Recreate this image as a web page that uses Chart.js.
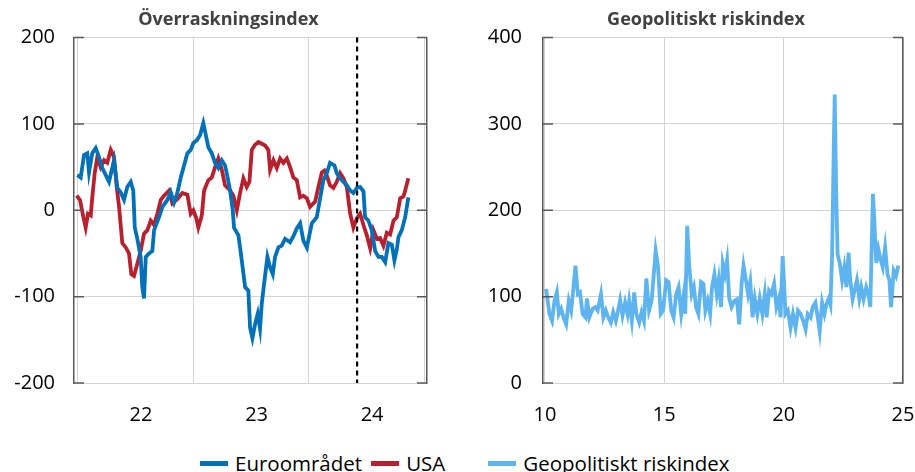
<!DOCTYPE html>
<html>
<head>
<meta charset="utf-8">
<script src="https://cdn.jsdelivr.net/npm/chart.js@4.4.1/dist/chart.umd.min.js"></script>
<style>
    html, body { margin: 0; padding: 0; background: #fff; overflow: hidden; }
    #wrap { position: relative; width: 915px; height: 472px; overflow: hidden; }
    #leftChart { position: absolute; left: 0; top: 0; }
    #rightChart { position: absolute; left: 457px; top: 0; }
    #legend { position: absolute; left: 200px; top: 449px; display: flex; align-items: center;
              font-family: "Open Sans"; font-size: 20.5px; color: #000; white-space: nowrap; }
    .item { display: flex; align-items: center; margin-right: 9px; }
    .swatch { width: 28px; height: 5px; margin-right: 7px; }
</style>
</head>
<body>
<div id="wrap">
    <canvas id="leftChart" width="457" height="447"></canvas>
    <canvas id="rightChart" width="498" height="447"></canvas>
    <div id="legend"></div>
</div>
<script>
// Överraskningsindex (x in years, 22 = 2022)
const euroX = [21.449, 21.478, 21.507, 21.535, 21.550, 21.578, 21.608, 21.636, 21.665, 21.694,
    21.723, 21.766, 21.795, 21.824, 21.853, 21.881, 21.911, 21.933, 21.946, 21.968,
    21.997, 22.011, 22.026, 22.041, 22.069, 22.098, 22.113, 22.156, 22.185, 22.228,
    22.257, 22.286, 22.314, 22.344, 22.401, 22.430, 22.453, 22.482, 22.511, 22.539,
    22.583, 22.612, 22.641, 22.669, 22.699, 22.727, 22.742, 22.771, 22.794, 22.805,
    22.843, 22.872, 22.901, 22.929, 22.944, 22.964, 22.987, 23.010, 23.030, 23.045,
    23.065, 23.094, 23.117, 23.140, 23.160, 23.189, 23.218, 23.247, 23.290, 23.319,
    23.348, 23.377, 23.405, 23.435, 23.478, 23.521, 23.550, 23.578, 23.608, 23.636,
    23.674, 23.694, 23.723, 23.752, 23.781, 23.810, 23.838, 23.868, 23.896, 23.925,
    23.939, 23.968, 23.997, 24.026, 24.055, 24.084, 24.113, 24.141, 24.171, 24.193,
    24.214, 24.228, 24.257, 24.286, 24.314];
const euroY = [41, 38, 64, 66, 44, 66, 72, 62, 49, 41,
    33, 58, 26, 21, 12, 27, 33, 23, -20, -33,
    -54, -89, -102, -54, -50, -47, -23, -8, 4, 12,
    21, 9, 20, 38, 66, 70, 78, 81, 87, 101,
    73, 66, 55, 49, 58, 52, 43, 23, 0, -20,
    -29, -58, -89, -93, -136, -148, -132, -120, -137, -108,
    -85, -54, -66, -74, -54, -43, -41, -33, -37, -30,
    -21, -15, -35, -43, -15, -8, 14, 35, 43, 55,
    52, 43, 37, 33, 29, 23, 20, 26, 27, 22,
    -8, -12, -23, -47, -54, -54, -60, -38, -40, -58,
    -45, -31, -23, -8, 15];

const usaX = [21.443, 21.472, 21.501, 21.521, 21.541, 21.565, 21.578, 21.599, 21.622, 21.651,
    21.680, 21.708, 21.738, 21.766, 21.790, 21.810, 21.838, 21.868, 21.896, 21.916,
    21.939, 21.968, 21.997, 22.026, 22.055, 22.084, 22.113, 22.141, 22.171, 22.199,
    22.243, 22.271, 22.314, 22.358, 22.401, 22.430, 22.453, 22.476, 22.496, 22.526,
    22.546, 22.583, 22.612, 22.641, 22.669, 22.699, 22.727, 22.771, 22.799, 22.829,
    22.857, 22.886, 22.915, 22.938, 22.959, 22.987, 23.016, 23.045, 23.074, 23.102,
    23.117, 23.146, 23.175, 23.204, 23.232, 23.262, 23.290, 23.319, 23.348, 23.377,
    23.405, 23.435, 23.463, 23.507, 23.535, 23.565, 23.587, 23.608, 23.636, 23.665,
    23.694, 23.723, 23.752, 23.781, 23.810, 23.838, 23.868, 23.896, 23.925, 23.954,
    23.983, 24.011, 24.041, 24.069, 24.098, 24.127, 24.156, 24.185, 24.214, 24.243,
    24.271, 24.286, 24.314];
const usaY = [17, 12, -8, -20, -4, -6, 15, 43, 62, 50,
    58, 55, 70, 62, 27, 4, -38, -43, -50, -74,
    -76, -62, -47, -27, -23, -12, -17, -4, 12, 17,
    23, 8, 13, 20, 18, -4, 0, -8, -20, -6,
    23, 35, 38, 50, 60, 47, 29, 23, 17, 0,
    20, 37, 27, 33, 70, 76, 79, 77, 75, 70,
    47, 58, 49, 60, 55, 60, 50, 38, 35, 15,
    17, 14, 4, 10, 27, 44, 46, 40, 29, 26,
    33, 43, 37, 27, -4, -20, -9, -4, -17, -29,
    -44, -23, -33, -32, -41, -26, -28, -12, -8, 14,
    16, 23, 37];

const leftYearTicks = [22, 23, 24];
const leftGridX = [21.45, 22.45, 23.45, 24.45];
const leftYTicks = [-200, -100, 0, 100, 200];
const dashedX = 23.87;

// Geopolitiskt riskindex (x in years, 10 = 2010)
const geoX = [10.05, 10.19, 10.30, 10.40, 10.50, 10.58, 10.68, 10.78, 10.89, 11.00,
    11.10, 11.17, 11.28, 11.38, 11.47, 11.58, 11.70, 11.76, 11.86, 12.00,
    12.11, 12.21, 12.35, 12.45, 12.55, 12.65, 12.76, 12.86, 12.97, 13.08,
    13.15, 13.25, 13.36, 13.46, 13.53, 13.64, 13.74, 13.83, 13.95, 14.05,
    14.15, 14.25, 14.36, 14.47, 14.54, 14.64, 14.74, 14.85, 14.95, 15.08,
    15.18, 15.29, 15.39, 15.50, 15.60, 15.71, 15.82, 15.88, 15.96, 16.05,
    16.15, 16.24, 16.33, 16.43, 16.54, 16.64, 16.72, 16.82, 16.92, 17.00,
    17.10, 17.20, 17.28, 17.38, 17.45, 17.54, 17.63, 17.72, 17.82, 17.93,
    18.04, 18.14, 18.24, 18.32, 18.42, 18.51, 18.60, 18.70, 18.79, 18.90,
    19.00, 19.11, 19.21, 19.29, 19.39, 19.49, 19.60, 19.70, 19.80, 19.87,
    19.96, 20.08, 20.18, 20.29, 20.39, 20.50, 20.60, 20.71, 20.82, 20.92,
    21.01, 21.13, 21.22, 21.33, 21.43, 21.51, 21.61, 21.71, 21.79, 21.89,
    21.96, 22.03, 22.10, 22.14, 22.20, 22.26, 22.35, 22.45, 22.54, 22.63,
    22.72, 22.79, 22.89, 22.97, 23.07, 23.17, 23.25, 23.35, 23.46, 23.55,
    23.63, 23.74, 23.80, 23.88, 23.97, 24.07, 24.15, 24.25, 24.35, 24.43,
    24.50, 24.61, 24.71, 24.80];
const geoY = [109, 80, 72, 95, 105, 80, 86, 76, 68, 95,
    84, 103, 136, 103, 105, 80, 76, 98, 76, 86,
    88, 84, 103, 76, 84, 76, 70, 82, 72, 86,
    96, 78, 93, 80, 95, 72, 105, 80, 70, 82,
    72, 121, 84, 95, 119, 153, 134, 80, 84, 119,
    117, 84, 76, 103, 111, 80, 103, 80, 182, 134,
    103, 111, 88, 80, 117, 115, 84, 95, 80, 111,
    126, 103, 119, 88, 138, 126, 142, 98, 88, 95,
    97, 68, 115, 136, 119, 103, 117, 76, 98, 80,
    98, 80, 103, 76, 107, 103, 115, 88, 98, 76,
    147, 80, 84, 64, 80, 64, 84, 80, 72, 62,
    80, 76, 88, 93, 76, 60, 93, 80, 91, 98,
    91, 149, 274, 334, 223, 149, 139, 119, 134, 111,
    151, 119, 97, 107, 119, 98, 111, 97, 111, 103,
    88, 219, 188, 139, 155, 142, 134, 157, 126, 119,
    88, 130, 124, 136];

const rightXTicks = [10, 15, 20, 25];
const rightYTicks = [0, 100, 200, 300, 400];

const euroColor = "#0070b8";
const usaColor = "#b8202e";
const geoColor = "#5eb4ee";
const gridColor = "#d4d4d4";
const axisColor = "#595959";
const font = { family: "Open Sans", size: 20 };

function toPoints(xs, ys) {
    return xs.map((x, i) => ({ x: x, y: ys[i] }));
}

function setTicks(values) {
    return scale => { scale.ticks = values.map(v => ({ value: v })); };
}

// short tick marks pointing into the plot on both sides
const innerTicks = {
    id: "innerTicks",
    afterDraw(chart) {
        const ctx = chart.ctx;
        const area = chart.chartArea;
        const y = chart.scales.y;
        ctx.save();
        ctx.strokeStyle = axisColor;
        ctx.lineWidth = 1.5;
        y.ticks.forEach(t => {
            const py = y.getPixelForValue(t.value);
            ctx.beginPath();
            ctx.moveTo(area.left, py);
            ctx.lineTo(area.left + 10, py);
            ctx.moveTo(area.right - 10, py);
            ctx.lineTo(area.right, py);
            ctx.stroke();
        });
        ctx.restore();
    }
};

const dashedLine = {
    id: "dashedLine",
    afterDatasetsDraw(chart) {
        const ctx = chart.ctx;
        const area = chart.chartArea;
        const px = chart.scales.x.getPixelForValue(dashedX);
        ctx.save();
        ctx.strokeStyle = "#000";
        ctx.lineWidth = 2.2;
        ctx.setLineDash([5, 4]);
        ctx.beginPath();
        ctx.moveTo(px, area.top);
        ctx.lineTo(px, area.bottom);
        ctx.stroke();
        ctx.restore();
    }
};

function lineSet(label, xs, ys, color) {
    return {
        label: label,
        data: toPoints(xs, ys),
        borderColor: color,
        backgroundColor: color,
        borderWidth: 3.8,
        pointRadius: 0,
        tension: 0,
        fill: false
    };
}

function titleOptions(text) {
    return {
        display: true,
        text: text,
        color: "#404040",
        font: { family: "Open Sans", size: 18, weight: "bold" },
        padding: { top: 9, bottom: 7 }
    };
}

const leftChart = new Chart(document.getElementById("leftChart"), {
    type: "line",
    data: {
        datasets: [
            lineSet("Euroområdet", euroX, euroY, euroColor),
            lineSet("USA", usaX, usaY, usaColor)
        ]
    },
    options: {
        responsive: false,
        animation: false,
        layout: { padding: 0 },
        plugins: {
            legend: { display: false },
            tooltip: { enabled: false },
            title: titleOptions("Överraskningsindex")
        },
        scales: {
            x: {
                type: "linear", min: 21.42, max: 24.475,
                afterBuildTicks: setTicks(leftGridX),
                ticks: { display: false },
                grid: { color: gridColor, drawTicks: false },
                border: { display: false }
            },
            xl: {
                type: "linear", position: "bottom", min: 21.42, max: 24.475,
                afterBuildTicks: setTicks(leftYearTicks),
                ticks: { padding: 20, font: font, color: "#000", maxRotation: 0, autoSkip: false },
                grid: { display: false, drawTicks: false },
                border: { display: false }
            },
            y: {
                min: -200, max: 200,
                afterBuildTicks: setTicks(leftYTicks),
                afterFit: scale => { scale.width = 74; },
                ticks: { padding: 19, font: font, color: "#000" },
                grid: { color: gridColor, drawTicks: false },
                border: { color: axisColor, width: 1.5 }
            },
            y2: {
                position: "right", min: -200, max: 200,
                afterFit: scale => { scale.width = 30; },
                ticks: { display: false },
                grid: { display: false, drawTicks: false },
                border: { color: axisColor, width: 1.5 }
            }
        }
    },
    plugins: [innerTicks, dashedLine]
});

const rightChart = new Chart(document.getElementById("rightChart"), {
    type: "line",
    data: {
        datasets: [
            lineSet("Geopolitiskt riskindex", geoX, geoY, geoColor)
        ]
    },
    options: {
        responsive: false,
        animation: false,
        layout: { padding: 0 },
        plugins: {
            legend: { display: false },
            tooltip: { enabled: false },
            title: titleOptions("Geopolitiskt riskindex")
        },
        scales: {
            x: {
                type: "linear", min: 9.92, max: 25,
                afterBuildTicks: setTicks(rightXTicks),
                ticks: { padding: 20, font: font, color: "#000", maxRotation: 0, autoSkip: false },
                grid: { color: gridColor, drawTicks: false },
                border: { display: false }
            },
            y: {
                min: 0, max: 400,
                afterBuildTicks: setTicks(rightYTicks),
                afterFit: scale => { scale.width = 86; },
                ticks: { padding: 21, font: font, color: "#000" },
                grid: { color: gridColor, drawTicks: false },
                border: { color: axisColor, width: 1.5 }
            },
            y2: {
                position: "right", min: 0, max: 400,
                afterFit: scale => { scale.width = 52; },
                ticks: { display: false },
                grid: { display: false, drawTicks: false },
                border: { color: axisColor, width: 1.5 }
            }
        }
    },
    plugins: [innerTicks]
});

// shared legend below both panels
const legendBox = document.getElementById("legend");
[leftChart, rightChart].forEach((chart, c) => {
    chart.data.datasets.forEach(ds => {
        const item = document.createElement("div");
        item.className = "item";
        if (c === 1) item.style.marginLeft = "34px";
        const sw = document.createElement("span");
        sw.className = "swatch";
        sw.style.background = ds.borderColor;
        const txt = document.createElement("span");
        txt.textContent = ds.label;
        item.appendChild(sw);
        item.appendChild(txt);
        legendBox.appendChild(item);
    });
});
</script>
</body>
</html>
